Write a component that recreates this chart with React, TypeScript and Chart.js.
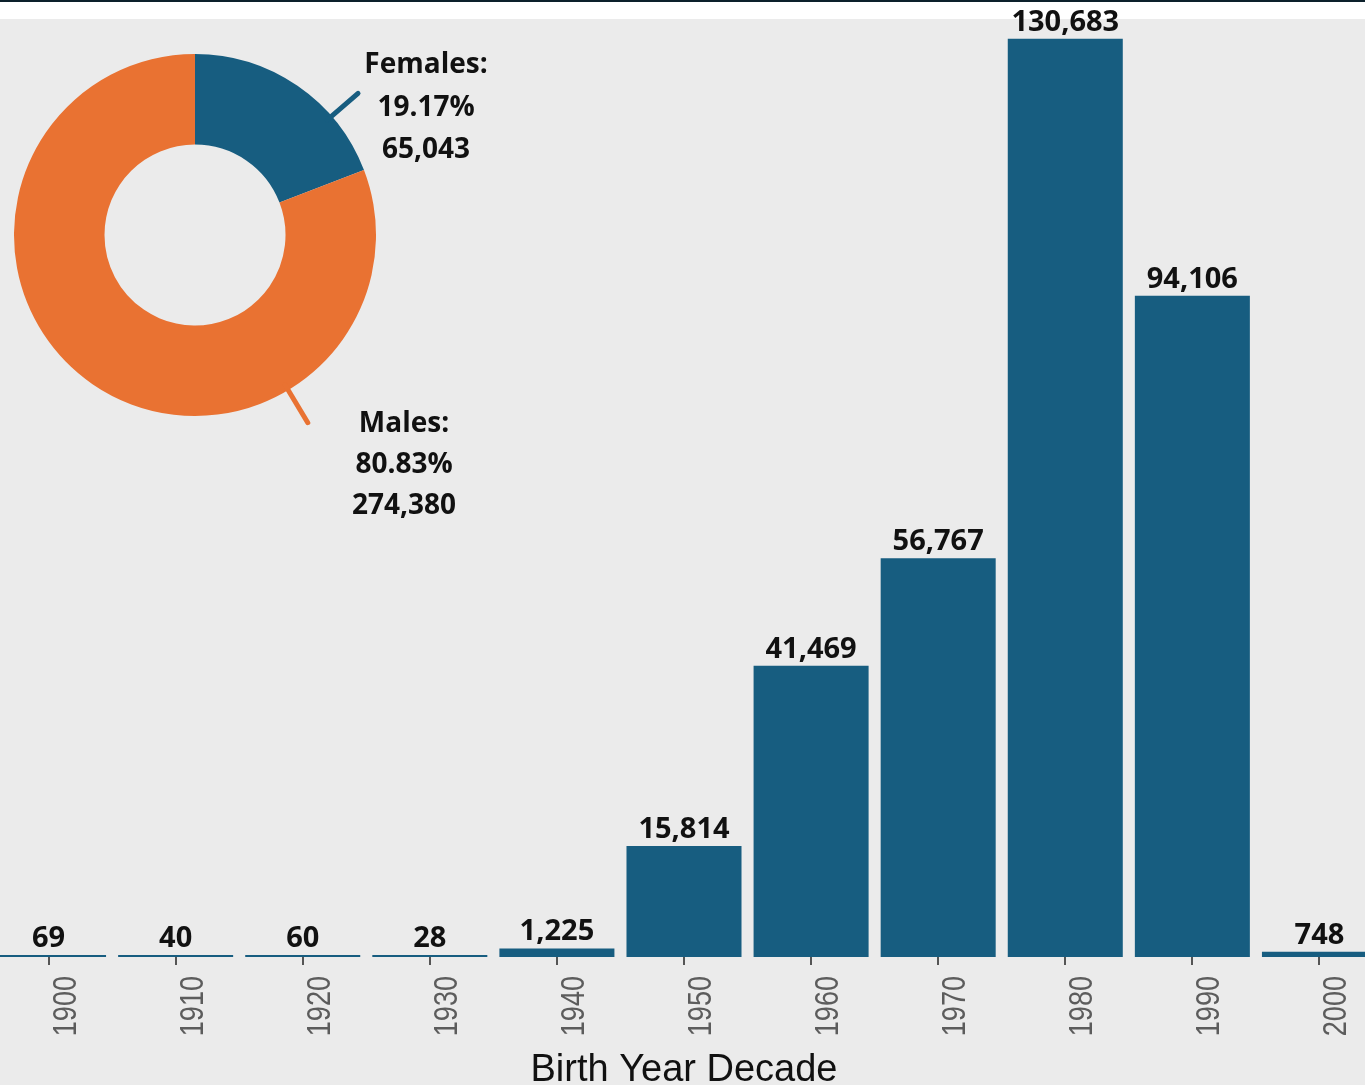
import React, { useEffect, useRef } from "react";
import { Chart, registerables } from "chart.js";

Chart.register(...registerables);

// ---- data ----
const decades = ["1900", "1910", "1920", "1930", "1940", "1950", "1960", "1970", "1980", "1990", "2000"];
const counts = [69, 40, 60, 28, 1225, 15814, 41469, 56767, 130683, 94106, 748];
const genderLabels = ["Females:", "Males:"];
const genderCounts = [65043, 274380];
const genderPercents = ["19.17%", "80.83%"];
const axisTitle = "Birth Year Decade";
const yMax = 133500;

const BLUE = "#175d80";
const ORANGE = "#e97232";
const BG = "#ebebeb";
const TEXT = "#111111";

const fmt = (v: number) => v.toLocaleString("en-US");

const barLabelsPlugin = {
  id: "barLabels",
  afterDatasetsDraw(chart: any) {
    const ctx = chart.ctx;
    const meta = chart.getDatasetMeta(0);
    ctx.save();
    ctx.font = 'bold 29px "Open Sans", "DejaVu Sans", sans-serif';
    ctx.fillStyle = TEXT;
    ctx.textAlign = "center";
    ctx.textBaseline = "alphabetic";
    meta.data.forEach((bar: any, i: number) => {
      ctx.fillText(fmt(counts[i]), bar.x, bar.y - 8);
    });
    ctx.restore();
  },
};

// rotated, slightly condensed tick labels
const tickLabelsPlugin = {
  id: "tickLabels",
  afterDraw(chart: any) {
    const ctx = chart.ctx;
    const xs = chart.scales.x;
    const top = chart.chartArea.bottom + 19;
    ctx.save();
    ctx.font = '33px "Liberation Sans", Arial, sans-serif';
    ctx.fillStyle = "#5c5c5c";
    ctx.textAlign = "right";
    ctx.textBaseline = "alphabetic";
    decades.forEach((d, i) => {
      const x = xs.getPixelForTick(i);
      ctx.save();
      ctx.translate(x + 27, top);
      ctx.rotate(-Math.PI / 2);
      ctx.scale(0.82, 1);
      ctx.fillText(d, 0, 0);
      ctx.restore();
    });
    ctx.restore();
  },
};

const calloutPlugin = {
  id: "callouts",
  afterDraw(chart: any) {
    const ctx = chart.ctx;
    const meta = chart.getDatasetMeta(0);
    const arc = meta.data[0];
    const cx = arc.x;
    const cy = arc.y;
    const R = arc.outerRadius;
    const colors = [BLUE, ORANGE];
    const angles = [49, 149];
    const ext = [35, 38];
    const textPos = [
      { dx: 231, dys: [-162, -119, -77] },
      { dx: 209, dys: [197, 238, 279] },
    ];
    ctx.save();
    for (let i = 0; i < 2; i++) {
      const t = ((angles[i] - 90) * Math.PI) / 180;
      ctx.beginPath();
      ctx.moveTo(cx + (R - 6) * Math.cos(t), cy + (R - 6) * Math.sin(t));
      ctx.lineTo(cx + (R + ext[i]) * Math.cos(t), cy + (R + ext[i]) * Math.sin(t));
      ctx.strokeStyle = colors[i];
      ctx.lineWidth = 5;
      ctx.lineCap = "round";
      ctx.stroke();
      ctx.font = 'bold 28px "Open Sans", "DejaVu Sans", sans-serif';
      ctx.fillStyle = TEXT;
      ctx.textAlign = "center";
      ctx.textBaseline = "alphabetic";
      const lines = [genderLabels[i], genderPercents[i], fmt(genderCounts[i])];
      lines.forEach((s, k) => {
        ctx.fillText(s, cx + textPos[i].dx, cy + textPos[i].dys[k]);
      });
    }
    ctx.restore();
  },
};

export default function App() {
  const barRef = useRef<HTMLCanvasElement>(null);
  const pieRef = useRef<HTMLCanvasElement>(null);

  useEffect(() => {
    const bar = new Chart(barRef.current as HTMLCanvasElement, {
      type: "bar",
      data: {
        labels: decades,
        datasets: [
          {
            data: counts,
            backgroundColor: BLUE,
            borderWidth: 0,
            barPercentage: 0.905,
            categoryPercentage: 1,
            minBarLength: 2,
          },
        ],
      },
      options: {
        responsive: false,
        animation: false,
        layout: { padding: { top: 19, left: 0, right: 0, bottom: 0 } },
        plugins: { legend: { display: false }, tooltip: { enabled: false } },
        scales: {
          x: {
            grid: {
              display: true,
              drawOnChartArea: false,
              drawTicks: true,
              tickLength: 8,
              offset: false,
              color: "#555555",
              lineWidth: 2,
            },
            border: { display: false },
            ticks: {
              display: false,
              autoSkip: false,
            },
            title: {
              display: true,
              text: axisTitle,
              color: TEXT,
              padding: { top: 0, bottom: 7 },
              font: { family: '"Liberation Sans", Arial, sans-serif', size: 38, weight: "normal" },
            },
            afterFit: (scale: any) => {
              scale.height = 143;
            },
          },
          y: {
            display: false,
            min: 0,
            max: yMax,
          },
        },
      },
      plugins: [barLabelsPlugin, tickLabelsPlugin],
    } as any);

    const pie = new Chart(pieRef.current as HTMLCanvasElement, {
      type: "doughnut",
      data: {
        labels: genderLabels,
        datasets: [
          {
            data: genderCounts,
            backgroundColor: [BLUE, ORANGE],
            borderWidth: 0,
          },
        ],
      },
      options: {
        responsive: false,
        animation: false,
        cutout: "50%",
        layout: { padding: { left: 14, right: 144, top: 53, bottom: 113 } },
        plugins: { legend: { display: false }, tooltip: { enabled: false } },
      },
      plugins: [calloutPlugin],
    } as any);

    return () => {
      bar.destroy();
      pie.destroy();
    };
  }, []);

  return (
    <div
      style={{
        position: "fixed",
        left: 0,
        top: 0,
        width: 1365,
        height: 1085,
        overflow: "hidden",
        background: BG,
      }}
    >
      <div
        style={{
          position: "absolute",
          left: 0,
          top: 0,
          width: 1365,
          height: 19,
          background: "#ffffff",
          borderTop: "2px solid #0c202b",
          boxSizing: "border-box",
        }}
      />
      <canvas
        ref={barRef}
        width={1398}
        height={1100}
        style={{ position: "absolute", left: -15, top: 0, width: 1398, height: 1100 }}
      />
      <canvas
        ref={pieRef}
        width={520}
        height={530}
        style={{ position: "absolute", left: 0, top: 0, width: 520, height: 530 }}
      />
    </div>
  );
}
